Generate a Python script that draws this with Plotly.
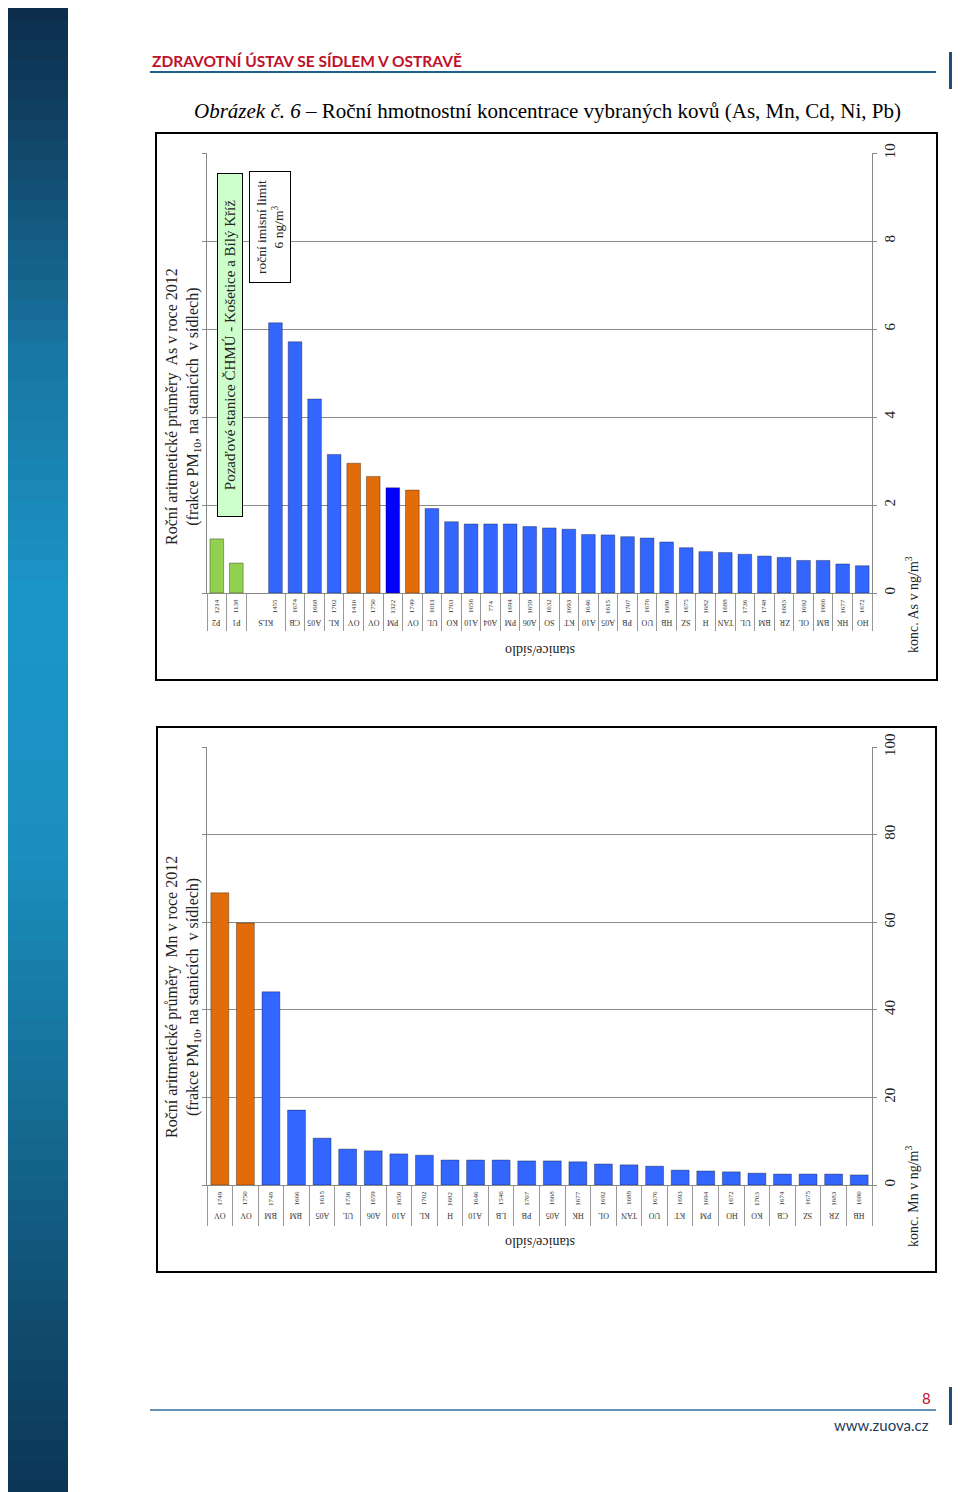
import plotly.graph_objects as go

# the page body adds an 8 px margin, so the figure is 8 px smaller each way
W, H = 952, 1484
OFF = 8

# --- As chart data (rotated page layout: categories along x, values upward) ---
as_codes = ["1214", "1138", "", "1455", "1674", "1668", "1702", "1410", "1750", "1322",
            "1749", "1011", "1703", "1656", "774", "1694", "1659", "1032", "1693", "1646",
            "1615", "1707", "1676", "1680", "1675", "1682", "1688", "1736", "1748", "1683",
            "1692", "1666", "1677", "1672"]
as_values = [1.23, 0.68, None, 6.14, 5.71, 4.41, 3.15, 2.95, 2.65, 2.39,
             2.34, 1.92, 1.62, 1.57, 1.57, 1.57, 1.51, 1.48, 1.45, 1.33,
             1.32, 1.28, 1.25, 1.16, 1.03, 0.94, 0.92, 0.88, 0.84, 0.81,
             0.74, 0.74, 0.66, 0.62]
as_kind = ["bg", "bg", "bg", "city", "city", "city", "city", "ov", "ov", "pm",
           "ov", "city", "city", "city", "city", "city", "city", "city", "city", "city",
           "city", "city", "city", "city", "city", "city", "city", "city", "city", "city",
           "city", "city", "city", "city"]
# site labels; KLS covers two category slots
as_sites = ["P2", "P1", "KLS", "CB", "A05", "KL", "OV", "OV", "PM", "OV", "UL", "KO",
            "A10", "A04", "PM", "A06", "SO", "KT", "A10", "A05", "PB", "UO", "HB", "SZ",
            "H", "TAN", "UL", "BM", "ZR", "OL", "BM", "HK", "HO"]
as_site_span = [1, 1, 2] + [1] * 30

# --- Mn chart data ---
mn_codes = ["1749", "1750", "1748", "1666", "1615", "1736", "1659", "1656", "1702", "1682",
            "1646", "1546", "1707", "1668", "1677", "1692", "1688", "1676", "1693", "1694",
            "1672", "1703", "1674", "1675", "1683", "1680"]
mn_sites = ["OV", "OV", "BM", "BM", "A05", "UL", "A06", "A10", "KL", "H",
            "A10", "LB", "PB", "A05", "HK", "OL", "TAN", "UO", "KT", "PM",
            "HO", "KO", "CB", "SZ", "ZR", "HB"]
mn_values = [66.7, 59.8, 44.1, 17.1, 10.7, 8.2, 7.8, 7.1, 6.8, 5.7,
             5.7, 5.7, 5.5, 5.5, 5.3, 4.8, 4.6, 4.3, 3.4, 3.2,
             3.0, 2.7, 2.5, 2.5, 2.5, 2.3]
mn_kind = ["ov", "ov"] + ["city"] * 24

KIND_COLORS = {"bg": "#92D050", "city": "#3366FF", "ov": "#E36C0A", "pm": "#0000FF"}
SERIF = "Liberation Serif"


def px(x):
    return (x - OFF) / W


def py(y):
    return 1 - (y - OFF) / H


fig = go.Figure()

# sidebar gradient
stops = [(0, (12, 44, 74)), (120, (17, 66, 100)), (350, (24, 118, 162)),
         (600, (28, 150, 200)), (850, (27, 144, 192)), (1100, (22, 110, 150)),
         (1300, (17, 80, 115)), (1492, (12, 54, 86))]
shapes = []
band = 20
for y0 in range(0, 1492, band):
    ym = y0 + band / 2
    for (a, ca), (b, cb) in zip(stops[:-1], stops[1:]):
        if a <= ym <= b:
            t = (ym - a) / (b - a)
            c = tuple(int(ca[i] + (cb[i] - ca[i]) * t) for i in range(3))
            break
    shapes.append(dict(type="rect", xref="paper", yref="paper", x0=0, x1=px(68),
                       y0=max(py(y0 + band + 1), 0), y1=min(py(y0), 1),
                       fillcolor="rgb(%d,%d,%d)" % c, line=dict(width=0), layer="below"))

# header / footer rules and chart frames
shapes += [
    dict(type="line", xref="paper", yref="paper", x0=px(150), x1=px(936), y0=py(72), y1=py(72),
         line=dict(color="#1F5F8B", width=2)),
    dict(type="line", xref="paper", yref="paper", x0=px(951), x1=px(951), y0=py(52), y1=py(89),
         line=dict(color="#1F4E79", width=4)),
    dict(type="line", xref="paper", yref="paper", x0=px(150), x1=px(936), y0=py(1410), y1=py(1410),
         line=dict(color="#2E6E9E", width=1.5)),
    dict(type="line", xref="paper", yref="paper", x0=px(951), x1=px(951), y0=py(1387), y1=py(1425),
         line=dict(color="#1F4E79", width=4)),
    dict(type="rect", xref="paper", yref="paper", x0=px(156), x1=px(937), y0=py(680), y1=py(133),
         line=dict(color="black", width=2)),
    dict(type="rect", xref="paper", yref="paper", x0=px(157), x1=px(936), y0=py(1272), y1=py(727),
         line=dict(color="black", width=2)),
]

annotations = [
    dict(text="<b>ZDRAVOTNÍ ÚSTAV SE SÍDLEM V OSTRAVĚ</b>", x=px(150), y=py(61),
         xanchor="left", font=dict(family="Lato", size=15.5, color="#C0102A")),
    dict(text="<i>Obrázek č. 6</i> – Roční hmotnostní koncentrace vybraných kovů (As, Mn, Cd, Ni, Pb)",
         x=px(547), y=py(111), font=dict(family=SERIF, size=21, color="black")),
    dict(text="8", x=px(933), y=py(1398), xanchor="right",
         font=dict(family="Lato", size=15, color="#C0102A")),
    dict(text="www.zuova.cz", x=px(931), y=py(1425), xanchor="right",
         font=dict(family="Lato", size=15, color="#1F3C5C")),
]


def add_chart(codes, values, kinds, sites, spans, xname, yname, top, bottom, ymax, dtick,
              metal, title_y, code_y, site_y, label_y, tick_len):
    n = len(codes)
    idx = list(range(n))
    fig.add_trace(go.Bar(
        x=idx, y=values, xaxis=xname, yaxis=yname,
        marker=dict(color=[KIND_COLORS[k] for k in kinds],
                    line=dict(color="rgba(0,0,0,0.55)", width=0.6)),
        showlegend=False, hoverinfo="skip",
    ))
    # site label positions and group boundaries
    site_pos, bounds, start = [], [-0.5], 0
    for s in spans:
        site_pos.append(start + (s - 1) / 2)
        start += s
        bounds.append(start - 0.5)
    ax = xname.replace("x", "xaxis")
    ay = yname.replace("y", "yaxis")
    fig.layout[ax] = dict(domain=[px(207), px(872)], anchor=yname, range=[-0.5, n - 0.5],
                          automargin=False, showgrid=False, zeroline=False, showline=True,
                          linecolor="#888", linewidth=1, tickmode="array", tickvals=bounds,
                          ticktext=[""] * len(bounds), ticks="outside", ticklen=tick_len,
                          tickcolor="#999", tickwidth=1)
    fig.layout[ay] = dict(domain=[py(bottom), py(top)], anchor=xname, side="right",
                          automargin=False, range=[0, ymax], dtick=dtick, showgrid=True,
                          gridcolor="#8c8c8c", gridwidth=1, zeroline=False, showline=True,
                          linecolor="#888", mirror="ticks", ticks="outside", ticklen=4,
                          tickcolor="#888", tickangle=-90,
                          tickfont=dict(family=SERIF, size=15, color="#222"))
    for i, c in enumerate(codes):
        if c:
            annotations.append(dict(text=c, x=i, xref=xname, y=py(code_y), textangle=-90,
                                    font=dict(family=SERIF, size=7, color="#333")))
    for p, s in zip(site_pos, sites):
        annotations.append(dict(text=s, x=p, xref=xname, y=py(site_y), textangle=180,
                                font=dict(family=SERIF, size=8, color="#333")))
    annotations.append(dict(text="stanice/sídlo", x=px(540), y=py(label_y), textangle=180,
                            font=dict(family=SERIF, size=14, color="#222")))
    annotations.append(dict(text="konc. %s v ng/m<sup>3</sup>" % metal, x=px(912),
                            y=py(bottom + 12), textangle=-90,
                            font=dict(family=SERIF, size=14, color="#222")))
    annotations.append(dict(
        text="Roční aritmetické průměry  %s v roce 2012<br>(frakce PM<sub>10</sub>, na stanicích  v sídlech)" % metal,
        x=px(183), y=py(title_y), textangle=-90,
        font=dict(family=SERIF, size=16, color="#222")))


add_chart(as_codes, as_values, as_kind, as_sites, as_site_span, "x", "y",
          153, 593, 10, 2, "As", 407, 606, 623, 651, 37)
add_chart(mn_codes, mn_values, mn_kind, mn_sites, [1] * len(mn_sites), "x2", "y2",
          747, 1185, 100, 20, "Mn", 997, 1198, 1216, 1243, 40)

# notes inside the As chart
annotations += [
    dict(text="Pozaďové stanice ČHMÚ - Košetice a Bílý Kříž", x=px(230), y=py(345),
         textangle=-90, width=338, height=20, bgcolor="#CCFFCC", bordercolor="black",
         borderwidth=1, borderpad=2, font=dict(family=SERIF, size=15, color="#222")),
    dict(text="roční imisní limit<br>6 ng/m<sup>3</sup>", x=px(270), y=py(227),
         textangle=-90, width=106, height=36, bgcolor="white", bordercolor="black",
         borderwidth=1, borderpad=2, font=dict(family=SERIF, size=13.5, color="#222")),
]

for a in annotations:
    a.setdefault("xref", "paper")
    a.setdefault("yref", "paper")
    a.setdefault("xanchor", "center")
    a.setdefault("yanchor", "middle")
    a.setdefault("showarrow", False)

fig.update_layout(
    template="none",
    width=W, height=H, margin=dict(l=0, r=0, t=0, b=0, pad=0), autosize=False,
    paper_bgcolor="white", plot_bgcolor="white", bargap=0.3,
    shapes=shapes, annotations=annotations,
)
fig.write_html("out.html")
